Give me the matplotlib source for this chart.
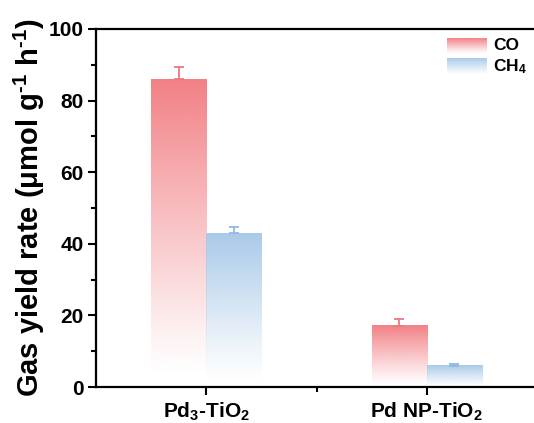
import numpy as np
import matplotlib
matplotlib.use("Agg")
import matplotlib.pyplot as plt
from matplotlib.colors import to_rgb

plt.rcParams['font.family'] = ['Liberation Sans', 'DejaVu Sans']
plt.rcParams['font.weight'] = 'bold'
plt.rcParams['mathtext.fontset'] = 'custom'
plt.rcParams['mathtext.rm'] = 'Liberation Sans:bold'
plt.rcParams['mathtext.bf'] = 'Liberation Sans:bold'
plt.rcParams['mathtext.it'] = 'Liberation Sans:bold'
plt.rcParams['mathtext.default'] = 'bf'

categories = [r'Pd$_3$-TiO$_2$', r'Pd NP-TiO$_2$']
series = ['CO', r'CH$_4$']
co_values = [86.0, 17.1]
co_errors = [3.3, 1.9]
ch4_values = [42.9, 5.9]
ch4_errors = [1.7, 0.6]
colors = ['#F28085', '#A9CAE9']
err_colors = ['#EC7880', '#93B9E0']

fig = plt.figure(figsize=(5.34, 4.23), dpi=100)
W, H = 534, 423
left, right, top, bottom = 96, 537, 29, 387
ax = fig.add_axes([left / W, 1 - bottom / H, (right - left) / W, (bottom - top) / H])

x = np.arange(1, len(categories) + 1)
width = 0.25
offsets = [-width / 2, width / 2]
vals = [co_values, ch4_values]
errs = [co_errors, ch4_errors]

def grad_image(color, n=256):
    r, g, b = to_rgb(color)
    t = np.linspace(0, 1, n)
    a = np.clip((t - 0.04) / 0.96, 0, 1) ** 1.1
    img = np.zeros((n, 1, 4))
    img[:, 0, 0] = r
    img[:, 0, 1] = g
    img[:, 0, 2] = b
    img[:, 0, 3] = a
    return img

for s in range(2):
    img = grad_image(colors[s])
    for i, xc in enumerate(x):
        x0 = xc + offsets[s] - width / 2
        x1 = xc + offsets[s] + width / 2
        h = vals[s][i]
        ax.imshow(img, extent=[x0, x1, 0, h], origin='lower', aspect='auto',
                  interpolation='bilinear', zorder=2)
    ax.errorbar(x + offsets[s], vals[s], yerr=[np.zeros(len(x)), errs[s]],
                fmt='none', ecolor=err_colors[s], elinewidth=1.3, capsize=3.5,
                capthick=1.3, zorder=3)

ax.set_xlim(0.5, 2.5)
ax.set_ylim(0, 100)
ax.set_xticks(x)
ax.set_xticklabels(categories, fontsize=15, fontweight='bold')
ax.set_xticks([1.5], minor=True)
ax.set_yticks([0, 20, 40, 60, 80, 100])
ax.set_yticks([10, 30, 50, 70, 90], minor=True)
ax.tick_params(axis='y', labelsize=15, width=1.5, length=6, pad=3)
ax.tick_params(axis='x', labelsize=15, width=1.5, length=6, pad=4)
ax.tick_params(which='minor', width=1.5, length=3.5)
for lbl in ax.get_yticklabels():
    lbl.set_fontweight('bold')
ax.spines['right'].set_visible(False)
for sp in ['left', 'top', 'bottom']:
    ax.spines[sp].set_linewidth(1.6)

ax.set_ylabel('Gas yield rate (μmol g$^{\u20101}$ h$^{\u20101}$)', fontsize=21,
              fontweight='bold')
ax.yaxis.set_label_coords((47 - left) / (right - left), 0.5)

# manual legend with gradient patches
def px2ax(px, py):
    return (px - left) / (right - left), (bottom - py) / (bottom - top)

leg = [(38, 54), (58, 75)]
for s in range(2):
    y0p, y1p = leg[s]
    ax0, ay1 = px2ax(447, y0p)
    ax1, ay0 = px2ax(487, y1p)
    ax.imshow(grad_image(colors[s]), extent=[ax0, ax1, ay0, ay1], origin='lower',
              aspect='auto', transform=ax.transAxes, clip_on=False, zorder=4,
              interpolation='bilinear')
    tx, ty = px2ax(493, (y0p + y1p) / 2)
    ax.text(tx, ty, series[s], transform=ax.transAxes, fontsize=12.5,
            fontweight='bold', va='center', ha='left')

fig.savefig('out.png', dpi=100)
